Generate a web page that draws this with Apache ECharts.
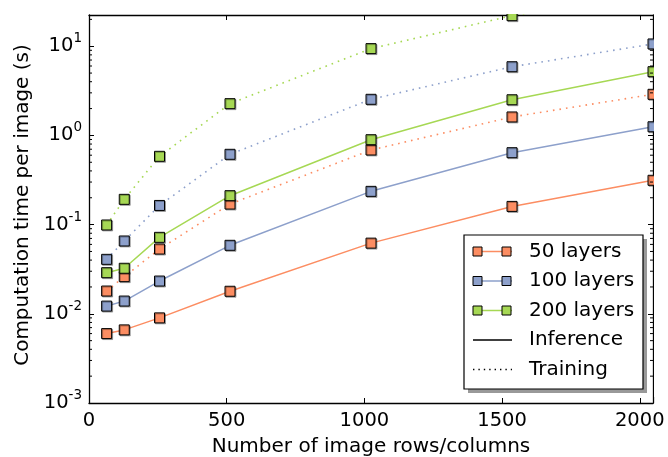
<!DOCTYPE html>
<html>
<head>
<meta charset="utf-8">
<script src="https://cdn.jsdelivr.net/npm/echarts@6/dist/echarts.min.js"></script>
<style>
  html, body { margin: 0; padding: 0; background: #fff; }
  #chart { width: 668px; height: 457px; }
</style>
</head>
<body>
<div id="chart"></div>
<script>
// image size (rows/columns) on the x axis
const rows = [64, 128, 256, 512, 1024, 1536, 2048]

// seconds per image
const inference50 = [0.0060, 0.0066, 0.0090, 0.0179, 0.062, 0.160, 0.314]
const training50 = [0.0180, 0.0261, 0.0532, 0.170, 0.686, 1.61, 2.89]
const inference100 = [0.0122, 0.0139, 0.0233, 0.0586, 0.236, 0.640, 1.25]
const training100 = [0.0408, 0.0655, 0.164, 0.614, 2.54, 5.89, 10.6]
const inference200 = [0.0289, 0.0324, 0.0720, 0.211, 0.895, 2.51, 5.18]
const training200 = [0.099, 0.192, 0.583, 2.27, 9.40, 22.0, 38.0]

const layerNames = ['50 layers', '100 layers', '200 layers']
const layerColors = ['#fc8d62', '#8da0cb', '#a6d854']

// y axis runs in log10 space: 10^-3 .. ~10^1.35
const yMin = -3
const yMax = 1.35
const xMax = 2048

const font = 'DejaVu Sans'
const grid = { left: 89, top: 15, right: 15, bottom: 54, outerBoundsMode: 'none', containLabel: false }
const W = 668
const H = 457

const toLog = arr => arr.map((v, i) => [rows[i], Math.log10(v)])

// minor ticks at 2..9 x 10^n (axis decoration only)
const minorTicks = []
for (let n = -3; n <= 1; n++) {
  for (let k = 2; k <= 9; k++) {
    const v = Math.log10(k * Math.pow(10, n))
    if (v < yMax) minorTicks.push([0, v])
  }
}

const markerStyle = color => ({
  color: color,
  borderColor: '#000',
  borderWidth: 1,
  shadowColor: 'rgba(0,0,0,0.3)',
  shadowOffsetX: 1,
  shadowOffsetY: 1,
  shadowBlur: 0
})

function lineSeries (name, data, color, dotted) {
  return {
    name: name,
    type: 'line',
    data: toLog(data),
    symbol: 'rect',
    symbolSize: 10,
    showAllSymbol: true,
    lineStyle: dotted
      ? { color: color, width: 1.6, type: [1.6, 5] }
      : { color: color, width: 1.5 },
    itemStyle: markerStyle(color),
    emphasis: { disabled: true },
    animation: false
  }
}

const series = [
  lineSeries(layerNames[0], inference50, layerColors[0], false),
  lineSeries(layerNames[0], training50, layerColors[0], true),
  lineSeries(layerNames[1], inference100, layerColors[1], false),
  lineSeries(layerNames[1], training100, layerColors[1], true),
  lineSeries(layerNames[2], inference200, layerColors[2], false),
  lineSeries(layerNames[2], training200, layerColors[2], true),
  {
    type: 'custom',
    data: minorTicks,
    silent: true,
    z: 5,
    renderItem: function (params, api) {
      const y = api.coord([0, api.value(1)])[1]
      const cs = params.coordSys
      return {
        type: 'group',
        children: [
          { type: 'line', shape: { x1: cs.x, y1: y, x2: cs.x + 3, y2: y }, style: { stroke: '#000', lineWidth: 1 } },
          { type: 'line', shape: { x1: cs.x + cs.width - 3, y1: y, x2: cs.x + cs.width, y2: y }, style: { stroke: '#000', lineWidth: 1 } }
        ]
      }
    }
  }
]

// legend drawn by hand: two squares joined by a line, like the original
const lgLeft = 464
const lgTop = 235
const lgW = 179
const lgH = 154
const lgRow = 29.5
const legendEls = [
  { type: 'rect', z: 101, shape: { x: lgLeft + 4, y: lgTop + 4, width: lgW, height: lgH }, style: { fill: '#999' } },
  { type: 'rect', z: 102, shape: { x: lgLeft, y: lgTop, width: lgW, height: lgH }, style: { fill: '#fff', stroke: '#000', lineWidth: 1.2 } }
]
const lgItems = layerNames.map((n, i) => ({ label: n, color: layerColors[i], squares: true, dash: null }))
  .concat([
    { label: 'Inference', color: '#000', squares: false, dash: null },
    { label: 'Training', color: '#000', squares: false, dash: [1.4, 4] }
  ])
lgItems.forEach((it, i) => {
  const cy = lgTop + 16.5 + i * lgRow
  legendEls.push({
    type: 'line',
    z: 103,
    shape: { x1: lgLeft + 9, y1: cy, x2: lgLeft + 48, y2: cy },
    style: { stroke: it.color, lineWidth: 1.4, lineDash: it.dash }
  })
  if (it.squares) {
    [lgLeft + 13.5, lgLeft + 42.5].forEach(cx => {
      legendEls.push({
        type: 'rect',
        z: 104,
        shape: { x: cx - 4.5, y: cy - 4.5, width: 9, height: 9 },
        style: { fill: it.color, stroke: '#000', lineWidth: 1 }
      })
    })
  }
  legendEls.push({
    type: 'text',
    z: 104,
    x: lgLeft + 65,
    y: cy,
    style: { text: it.label, font: '20px "' + font + '"', fill: '#000', verticalAlign: 'middle' }
  })
})

// white masks outside the plot so edge markers are cut like in the original
const plotBottom = H - grid.bottom
const masks = [
  { type: 'rect', z: 100, shape: { x: W - grid.right + 1, y: 0, width: grid.right, height: plotBottom - 6 }, style: { fill: '#fff' } },
  { type: 'rect', z: 100, shape: { x: 0, y: 0, width: W, height: grid.top - 1 }, style: { fill: '#fff' } }
]

const axisLine = { show: true, onZero: false, lineStyle: { color: '#000', width: 1.3 } }
const majorTick = { show: true, inside: true, length: 5, lineStyle: { color: '#000', width: 1 } }

const option = {
  backgroundColor: '#fff',
  animation: false,
  grid: grid,
  xAxis: [
    {
      type: 'value',
      min: 0,
      max: xMax,
      interval: 500,
      position: 'bottom',
      axisLine: axisLine,
      axisTick: majorTick,
      splitLine: { show: false },
      axisLabel: { color: '#000', fontFamily: font, fontSize: 19.5, margin: 8, showMaxLabel: false, formatter: v => String(v) },
      name: 'Number of image rows/columns',
      nameLocation: 'middle',
      nameGap: 34,
      nameTextStyle: { color: '#000', fontFamily: font, fontSize: 20 }
    },
    {
      type: 'value',
      min: 0,
      max: xMax,
      interval: 500,
      position: 'top',
      axisLine: axisLine,
      axisTick: majorTick,
      splitLine: { show: false },
      axisLabel: { show: false }
    }
  ],
  yAxis: [
    {
      type: 'value',
      min: yMin,
      max: yMax,
      interval: 1,
      position: 'left',
      axisLine: axisLine,
      axisTick: majorTick,
      splitLine: { show: false },
      axisLabel: {
        margin: 7,
        showMaxLabel: false,
        formatter: v => '{b|10}{s|' + v + '}',
        rich: {
          b: { color: '#000', fontFamily: font, fontSize: 19.5 },
          s: { color: '#000', fontFamily: font, fontSize: 13.5, padding: [0, 0, 15, 0] }
        }
      },
      name: 'Computation time per image (s)',
      nameLocation: 'middle',
      nameGap: 56,
      nameTextStyle: { color: '#000', fontFamily: font, fontSize: 20, padding: [0, 0, 0, 8] }
    },
    {
      type: 'value',
      min: yMin,
      max: yMax,
      interval: 1,
      position: 'right',
      axisLine: axisLine,
      axisTick: majorTick,
      splitLine: { show: false },
      axisLabel: { show: false }
    }
  ],
  series: series,
  graphic: masks.concat(legendEls)
}

const chart = echarts.init(document.getElementById('chart'), null, { renderer: 'canvas' })
chart.setOption(option)
</script>
</body>
</html>
